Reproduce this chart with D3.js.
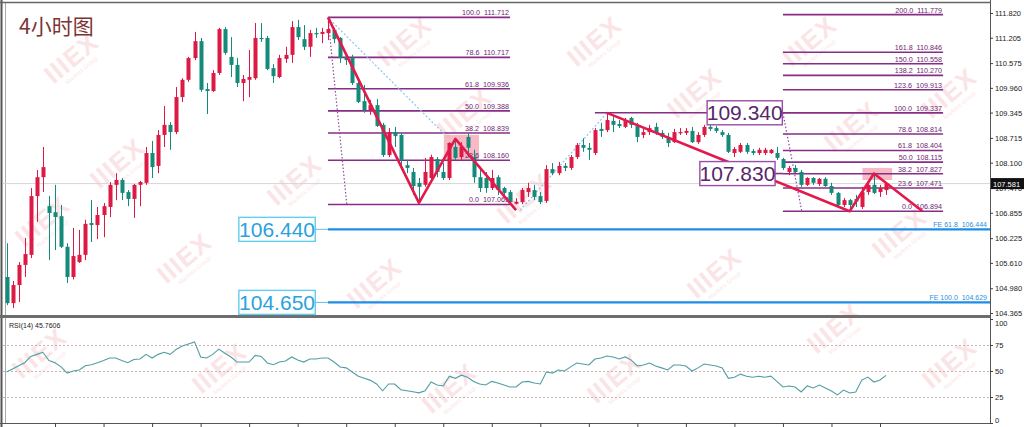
<!DOCTYPE html>
<html><head><meta charset="utf-8"><title>4小时图</title>
<script src="https://cdn.jsdelivr.net/npm/d3@7/dist/d3.min.js"></script>
<style>
html,body{margin:0;padding:0;background:#fff;overflow:hidden;}
svg{display:block;}
</style></head><body>
<svg id="chart" width="1024" height="427"></svg>
<script>
// ---------- data ----------
const title = "4小时图";
const opens = [105.26,104.61,105.06,105.56,105.81,107.27,107.74,107.02,106.87,106.77,
106.01,105.26,105.63,105.81,106.60,106.55,106.80,107.00,107.55,107.67,
107.37,107.20,107.55,107.60,108.34,108.02,108.79,109.04,108.86,109.73,
110.16,110.70,111.12,109.93,109.88,110.33,111.42,110.73,110.53,110.08,
110.16,110.20,111.20,111.20,110.45,110.23,110.68,110.78,111.47,111.17,
110.98,111.32,111.30,111.32,111.40,111.20,110.73,110.70,110.08,109.63,
109.41,109.53,109.04,108.29,108.86,108.79,108.04,107.87,107.60,107.55,
107.72,108.19,107.87,107.72,108.49,108.24,108.74,108.24,107.74,107.72,
107.47,107.74,107.47,107.37,107.08,107.12,107.37,107.42,107.27,107.15,
107.94,107.84,108.02,107.97,108.24,108.54,108.47,108.34,108.94,108.91,
109.14,109.06,108.99,109.21,109.01,108.79,108.86,108.99,108.84,108.74,
108.61,108.84,108.84,108.89,108.61,108.79,108.99,108.96,108.86,108.79,
108.34,108.37,108.54,108.39,108.34,108.34,108.34,108.34,108.19,107.87,
107.97,107.87,107.55,107.72,107.57,107.70,107.52,107.35,107.05,107.17,
107.20,107.00,107.37,107.55,107.37,107.42];
const highs = [106.10,105.16,105.63,106.23,107.47,107.92,108.49,107.27,107.55,107.05,
106.10,106.48,106.43,106.68,107.17,107.00,107.10,107.62,107.84,107.72,
107.42,107.57,107.65,108.49,108.64,108.91,109.51,109.11,109.98,110.20,
110.73,111.35,111.20,110.08,110.40,111.45,111.47,111.22,110.70,110.28,
110.90,111.57,111.57,111.25,110.55,110.78,110.98,111.62,111.65,111.52,
111.40,111.45,111.45,111.712,111.45,111.22,110.78,110.78,110.16,110.03,
109.66,109.68,109.09,108.96,108.99,108.84,108.17,107.97,107.72,108.22,
108.30,108.24,108.09,108.61,108.69,108.61,108.84,108.42,107.97,107.87,
107.92,107.79,107.50,107.42,107.22,107.47,107.60,107.55,107.37,108.04,
108.09,108.12,108.09,108.29,108.59,108.71,108.59,108.96,109.09,109.337,
109.24,109.16,109.21,109.24,109.09,108.96,109.04,109.09,108.91,108.84,
108.94,108.96,108.96,108.99,108.86,109.04,109.04,109.01,108.91,108.84,
108.49,108.59,108.59,108.44,108.47,108.47,108.44,108.49,108.22,108.02,
108.04,107.92,107.74,107.74,107.72,107.74,107.60,107.37,107.22,107.20,
107.30,107.50,107.62,107.84,107.55,107.60];
const lows = [104.56,104.49,104.64,105.26,105.73,106.63,107.37,105.68,105.93,105.98,
105.11,105.20,105.61,105.68,106.13,106.20,106.25,106.75,107.17,107.17,
107.02,106.73,107.02,107.55,107.72,107.84,108.49,108.42,108.81,109.61,
110.11,110.65,109.86,109.31,109.86,110.28,110.78,110.23,109.98,109.63,
109.73,110.16,111.10,110.40,110.08,110.20,110.58,110.58,111.15,110.90,
110.73,111.20,111.07,111.15,111.07,110.58,110.53,110.03,109.58,109.34,
109.29,108.99,108.24,108.24,108.49,107.92,107.84,107.30,107.10,107.50,
107.62,107.74,107.67,107.67,108.17,108.17,108.24,107.60,107.37,107.35,
107.42,107.30,107.30,107.07,107.063,107.07,107.25,107.17,107.07,107.10,
107.79,107.79,107.89,107.92,108.19,108.37,108.17,108.29,108.74,108.86,
108.86,108.96,108.96,108.96,108.61,108.71,108.79,108.79,108.69,108.49,
108.59,108.79,108.79,108.59,108.57,108.74,108.89,108.84,108.74,108.34,
108.24,108.34,108.32,108.29,108.29,108.29,108.32,108.17,107.92,107.79,
107.84,107.50,107.52,107.55,107.52,107.50,107.30,107.00,107.00,106.894,
107.00,106.95,107.30,107.32,107.25,107.30];
const closes = [104.61,105.06,105.56,105.83,107.27,107.74,107.99,106.85,106.75,106.01,
105.26,105.78,105.81,106.58,106.55,106.80,107.02,107.55,107.67,107.35,
107.20,107.55,107.62,108.34,107.99,108.79,109.04,108.86,109.73,110.16,
110.70,111.12,109.91,109.88,110.33,111.42,110.83,110.53,110.08,110.18,
110.23,111.20,111.17,110.43,110.25,110.70,110.78,111.47,111.22,110.98,
111.32,111.30,111.35,111.42,111.17,110.70,110.65,110.08,109.61,109.41,
109.53,109.01,108.29,108.86,108.76,108.17,107.97,107.52,107.50,107.87,
108.24,107.87,107.72,108.59,108.22,108.49,108.47,107.74,107.47,107.47,
107.72,107.42,107.35,107.12,107.13,107.42,107.47,107.25,107.12,107.94,
107.84,108.02,107.97,108.24,108.54,108.47,108.42,108.91,108.89,109.16,
109.04,109.01,109.14,109.04,108.74,108.86,108.96,108.84,108.74,108.59,
108.86,108.86,108.89,108.61,108.79,108.99,108.94,108.89,108.79,108.37,
108.44,108.54,108.37,108.34,108.42,108.42,108.42,108.22,107.97,107.97,
107.87,107.55,107.72,107.60,107.70,107.52,107.35,107.05,107.17,107.05,
107.14,107.37,107.55,107.35,107.47,107.581];
const rsiValues = [49,52,55,58,64,66,68,60,58,54,
48,50,51,55,56,58,60,62.5,62.5,60,
58,61,61.5,66,62.5,66,68,66,71,74,
76,78,63.5,62.5,66,71,67,63.5,58.6,58.6,
58.6,65,64,57.7,56,58.6,59.6,63.5,60.5,58.6,
61.5,61.5,62.5,62.5,58.6,53.8,53,49,45,43,
41,37.5,31,37.5,37.5,32,31,30,29,31,
39.4,36.5,35.6,45,43,46,44,40,37.5,36.5,
40,38.5,36.5,34.6,34.6,39.4,40,38.5,37.5,49,
48,51,50,54,57.7,56.7,55.8,61.5,62.5,64.4,
63.5,61.5,63.5,60.5,54.8,55.8,57.7,54.8,53,51,
55.8,55.8,54.8,50,53,56.7,55.8,54.8,53,43,
44,47,45,44,45,44,45,40,34.6,35.6,
34.6,29.8,35.6,33.7,36.5,33.7,30.8,27,31.7,28.8,
29.8,41.3,44.2,39.4,41.3,45.76];
const priceTicks = [111.820,111.205,110.575,109.960,109.345,108.715,108.100,107.470,106.855,106.225,105.610,104.980,104.365];
const rsiTicks = [100,75,50,25,0];
const rsiGridLevels = [75,50,25];
const timeTicks = [8,16,24,32,40,48,56,64,72,80,88,96,104,112,120,128,136,144];
const fibLeftLevels = ["100.0","78.6","61.8","50.0","38.2","23.6","0.0"];
const fibLeftPrices = [111.712,110.717,109.936,109.388,108.839,108.160,107.063];
const fibRightLevels = ["200.0","161.8","150.0","138.2","123.6","100.0","78.6","61.8","50.0","38.2","23.6","0.0"];
const fibRightPrices = [111.779,110.846,110.558,110.270,109.913,109.337,108.814,108.404,108.115,107.827,107.471,106.894];
const feLevels = ["61.8","100.0"];
const fePrices = [106.444,104.629];
const feBoxLabels = ["106.440","104.650"];
const swingBoxLabels = ["109.340","107.830"];
const swingBoxPrices = [109.340,107.830];
const zigLeft = [[53,111.712],[68,107.10],[74,108.69],[84,106.92]];
const zigRight = [[99,109.337],[139,106.894],[143,107.83],[151,106.894]];
const lastPrice = 107.581;
const rsiName = "RSI(14) 45.7606";

// ---------- layout ----------
const L = 3, R = 990, T = 2, MB = 316, RT = 318, RB = 423;
const svg = d3.select("#chart");
const x = d3.scaleLinear().domain([0, 145]).range([6.5, 886.07]);
const y = d3.scaleLinear().domain([104.365, 111.820]).range([313, 13]);
const yr = d3.scaleLinear().domain([0, 100]).range([423, 319]);
const UP = "#dc1a45", DN = "#148a7a", FIB = "#862d86", FIBT = "#6e2470", BLUE = "#1f8de6";
const FONT = "'Liberation Sans', Arial, sans-serif";

svg.append("rect").attr("width", 1024).attr("height", 427).attr("fill", "#fff");
const defs = svg.append("defs");
defs.append("clipPath").attr("id", "cm").append("rect").attr("x", L).attr("y", T).attr("width", R - L).attr("height", MB - T);
defs.append("clipPath").attr("id", "cr").append("rect").attr("x", L).attr("y", RT).attr("width", R - L).attr("height", RB - RT);

// watermarks (decorative)
const wmPos = [[77,65],[123,170],[190,265],[300,187],[410,48],[470,120],[530,205],[700,100],[815,48],[857,133],[905,240],[48,228],[45,360],[225,375],[455,395],[620,385],[840,335],[955,370],[600,48],[955,100],[380,290],[720,280]];
const wm = svg.append("g").attr("pointer-events", "none");
wmPos.forEach(p => {
  const g = wm.append("g").attr("transform", `translate(${p[0]},${p[1]}) rotate(-40)`).attr("opacity", 0.2);
  g.append("text").attr("text-anchor", "middle").attr("font-family", FONT).attr("font-weight", "bold")
    .attr("font-size", 26).attr("fill", "#ee7d88").attr("letter-spacing", 1).text("IIIEX");
  g.append("text").attr("text-anchor", "middle").attr("y", 9).attr("font-family", FONT)
    .attr("font-size", 6).attr("fill", "#ee7d88").text("Markets Group");
});

// frames
svg.append("line").attr("x1", 1.5).attr("x2", 1.5).attr("y1", 0).attr("y2", 427).attr("stroke", "#555").attr("stroke-width", 2);
svg.append("line").attr("x1", 5.5).attr("x2", 5.5).attr("y1", T).attr("y2", RB).attr("stroke", "#aaa").attr("stroke-width", 1);
svg.append("line").attr("x1", 0).attr("x2", R).attr("y1", 2.5).attr("y2", 2.5).attr("stroke", "#666").attr("stroke-width", 1.5);
svg.append("rect").attr("x", 0).attr("y", 315).attr("width", R).attr("height", 3).attr("fill", "#6d6d6d");
svg.append("line").attr("x1", R + 0.5).attr("x2", R + 0.5).attr("y1", 0).attr("y2", RB).attr("stroke", "#555");
svg.append("line").attr("x1", 0).attr("x2", R).attr("y1", RB + 0.5).attr("y2", RB + 0.5).attr("stroke", "#555");

const main = svg.append("g").attr("clip-path", "url(#cm)");

// current price line
main.append("line").attr("x1", L).attr("x2", R).attr("y1", y(lastPrice)).attr("y2", y(lastPrice)).attr("stroke", "#d6d6d6");

// pink zones
const pink = [[72.1, 77.9, 108.79, 108.17], [141.1, 146.0, 107.97, 107.67]];
main.selectAll("rect.pz").data(pink).join("rect").attr("class", "pz")
  .attr("x", d => x(d[0])).attr("width", d => x(d[1]) - x(d[0]))
  .attr("y", d => y(d[2])).attr("height", d => y(d[3]) - y(d[2]))
  .attr("fill", "#f3a3b2").attr("opacity", 0.75);

// fib left
const fl = fibLeftPrices.map((p, i) => ({p, lv: fibLeftLevels[i]}));
main.selectAll("line.fl").data(fl).join("line").attr("class", "fl")
  .attr("x1", x(53)).attr("x2", x(83)).attr("y1", d => y(d.p)).attr("y2", d => y(d.p))
  .attr("stroke", FIB).attr("stroke-width", 1.6);
main.selectAll("text.fl").data(fl).join("text").attr("class", "fl")
  .attr("x", x(83) - 1).attr("y", d => y(d.p) - 2).attr("text-anchor", "end")
  .attr("font-family", FONT).attr("font-size", 7.2).attr("fill", FIBT).style("white-space", "pre")
  .text(d => d.lv + "  " + d.p.toFixed(3));

// fib right
const fr = fibRightPrices.map((p, i) => ({p, lv: fibRightLevels[i]}));
main.selectAll("line.fr").data(fr).join("line").attr("class", "fr")
  .attr("x1", x(128)).attr("x2", x(154.4)).attr("y1", d => y(d.p)).attr("y2", d => y(d.p))
  .attr("stroke", FIB).attr("stroke-width", 1.6);
main.selectAll("text.fr").data(fr).join("text").attr("class", "fr")
  .attr("x", x(154.4) - 1).attr("y", d => y(d.p) - 2).attr("text-anchor", "end")
  .attr("font-family", FONT).attr("font-size", 7.2).attr("fill", FIBT).style("white-space", "pre")
  .text(d => d.lv + "  " + d.p.toFixed(3));

// dotted guide lines
const dotsPurple = [[[53, 111.70], [56.1, 107.06]], [[128, 109.337], [131.1, 106.894]]];
const dotsBlue = [[[53.3, 111.66], [72.3, 108.79]], [[84.7, 106.92], [99, 109.337]]];
const ln = d3.line().x(d => x(d[0])).y(d => y(d[1]));
main.selectAll("path.dp").data(dotsPurple).join("path").attr("class", "dp").attr("d", ln)
  .attr("fill", "none").attr("stroke", "#8a4a9a").attr("stroke-width", 1.2).attr("stroke-dasharray", "1.5,2");
main.selectAll("path.db").data(dotsBlue).join("path").attr("class", "db").attr("d", ln)
  .attr("fill", "none").attr("stroke", "#8fc3e6").attr("stroke-width", 1.2).attr("stroke-dasharray", "2,2");

// 109.340 horizontal and 107.830 connector
main.append("line").attr("x1", x(97)).attr("x2", x(115.5)).attr("y1", y(109.34)).attr("y2", y(109.34))
  .attr("stroke", FIB).attr("stroke-width", 1.6);
main.append("line").attr("x1", x(126.7)).attr("x2", x(128)).attr("y1", y(107.83)).attr("y2", y(107.83))
  .attr("stroke", FIB).attr("stroke-width", 1.6);

// FE lines
const fe = fePrices.map((p, i) => ({p, lv: feLevels[i], box: feBoxLabels[i]}));
main.selectAll("line.fe").data(fe).join("line").attr("class", "fe")
  .attr("x1", x(53)).attr("x2", R).attr("y1", d => y(d.p)).attr("y2", d => y(d.p))
  .attr("stroke", BLUE).attr("stroke-width", 2.2);
main.selectAll("line.fe2").data(fe).join("line").attr("class", "fe2")
  .attr("x1", x(50.9)).attr("x2", x(53)).attr("y1", d => y(d.p)).attr("y2", d => y(d.p))
  .attr("stroke", "#6ab8ea").attr("stroke-width", 1);
main.selectAll("text.fe").data(fe).join("text").attr("class", "fe")
  .attr("x", R - 3).attr("y", d => y(d.p) - 2.5).attr("text-anchor", "end")
  .attr("font-family", FONT).attr("font-size", 7).attr("fill", "#2b8fe0").style("white-space", "pre")
  .text(d => "FE " + d.lv + "  " + d.p.toFixed(3));

// candles
const idx = d3.range(opens.length);
const col = i => closes[i] >= opens[i] ? UP : DN;
const cg = main.append("g");
cg.selectAll("line").data(idx).join("line")
  .attr("x1", i => Math.round(x(i)) + 0.5).attr("x2", i => Math.round(x(i)) + 0.5)
  .attr("y1", i => y(highs[i])).attr("y2", i => y(lows[i]))
  .attr("stroke", col).attr("stroke-width", 1);
cg.selectAll("rect").data(idx).join("rect")
  .attr("x", i => Math.round(x(i)) - 1.5).attr("width", 4)
  .attr("y", i => y(Math.max(opens[i], closes[i])))
  .attr("height", i => Math.max(1.2, Math.abs(y(opens[i]) - y(closes[i]))))
  .attr("fill", col);

// zigzags
main.selectAll("path.zz").data([zigLeft, zigRight]).join("path").attr("class", "zz").attr("d", ln)
  .attr("fill", "none").attr("stroke", "#e3194c").attr("stroke-width", 2.6).attr("stroke-linejoin", "round");

// boxes
function box(cx0, cx1, price, label, stroke, color, fs) {
  const x0 = x(cx0), x1 = x(cx1), yc = y(price);
  main.append("rect").attr("x", x0).attr("y", yc - 12).attr("width", x1 - x0).attr("height", 24)
    .attr("fill", "#fff").attr("stroke", stroke).attr("stroke-width", 1.4);
  main.append("text").attr("x", (x0 + x1) / 2).attr("y", yc + 7.5).attr("text-anchor", "middle")
    .attr("font-family", FONT).attr("font-size", fs).attr("fill", color).text(label);
}
fe.forEach(d => box(38.3, 50.9, d.p, d.box, "#62cdf0", "#2aa2dc", 21));
box(115.5, 127.9, swingBoxPrices[0], swingBoxLabels[0], "#9a4ca8", "#57276a", 21);
box(114.3, 126.7, swingBoxPrices[1], swingBoxLabels[1], "#9a4ca8", "#57276a", 21);

// title
svg.append("text").attr("x", 19).attr("y", 34).attr("font-family", "'Noto Sans CJK SC', sans-serif")
  .attr("font-size", 21).attr("fill", "#7b3434").text(title);

// price axis
const ax = svg.append("g").attr("transform", `translate(${R},0)`)
  .call(d3.axisRight(y).tickValues(priceTicks).tickFormat(d3.format(".3f")).tickSize(3).tickPadding(2));
ax.select(".domain").remove();
ax.selectAll("line").attr("stroke", "#444");
ax.selectAll("text").attr("font-family", FONT).attr("font-size", 7.5).attr("fill", "#222");

// last price box
svg.append("rect").attr("x", R + 1).attr("y", y(lastPrice) - 5.5).attr("width", 33).attr("height", 11).attr("fill", "#111");
svg.append("text").attr("x", R + 3).attr("y", y(lastPrice) + 3).attr("font-family", FONT)
  .attr("font-size", 7.5).attr("fill", "#fff").text(lastPrice.toFixed(3));

// RSI panel
const rg = svg.append("g").attr("clip-path", "url(#cr)");
rg.selectAll("line.gl").data(rsiGridLevels).join("line").attr("class", "gl")
  .attr("x1", L).attr("x2", R).attr("y1", d => yr(d) + 0.5).attr("y2", d => yr(d) + 0.5)
  .attr("stroke", "#c9b2b6").attr("stroke-dasharray", "2,2");
rg.append("path").datum(rsiValues)
  .attr("d", d3.line().x((d, i) => x(i)).y(d => yr(d)))
  .attr("fill", "none").attr("stroke", "#4f9ea2").attr("stroke-width", 1.1);
svg.append("text").attr("x", 9).attr("y", 328).attr("font-family", FONT).attr("font-size", 7)
  .attr("fill", "#222").text(rsiName);
const rax = svg.append("g").attr("transform", `translate(${R},0)`)
  .call(d3.axisRight(yr).tickValues(rsiTicks).tickSize(3).tickPadding(2));
rax.select(".domain").remove();
rax.selectAll("line").attr("stroke", "#444");
rax.selectAll("text").attr("font-family", FONT).attr("font-size", 7.5).attr("fill", "#222")
  .attr("dy", d => d === 100 ? "0.9em" : d === 0 ? "-0.1em" : "0.32em");

// time ticks
const tax = svg.append("g").attr("transform", `translate(0,${RB})`)
  .call(d3.axisBottom(x).tickValues(timeTicks).tickSize(4).tickFormat(""));
tax.select(".domain").remove();
tax.selectAll("line").attr("stroke", "#444");
</script>
</body></html>
